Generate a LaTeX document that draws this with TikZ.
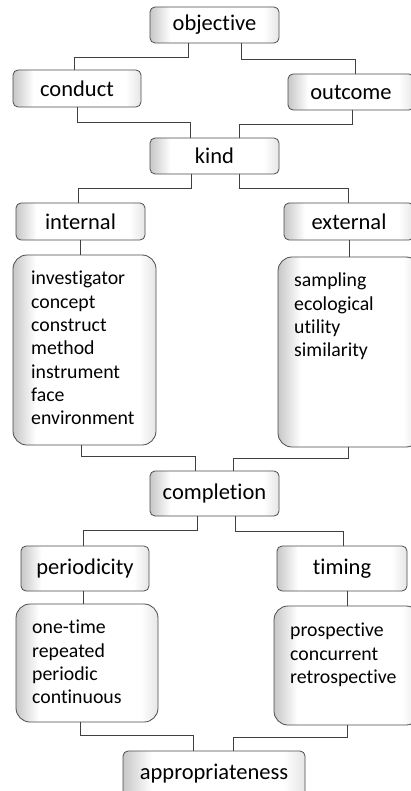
\documentclass[tikz,border=0pt]{standalone}
\usepackage{fontspec}
\setmainfont[Ligatures=NoCommon]{Carlito}
\pgfdeclarehorizontalshading{bevel}{100bp}{color(0bp)=(black!22); color(25bp)=(black!22); color(33bp)=(white); color(69bp)=(white); color(75bp)=(black!10); color(100bp)=(black!10)}
\begin{document}
\begin{tikzpicture}[x=1pt,y=-1pt,
  basebox/.style={draw=black!70, line width=0.8pt, shading=bevel, inner sep=0pt},
  lbl/.style={basebox, rounded corners=5pt, font=\fontsize{22.5}{26}\selectfont},
  lst/.style={basebox, rounded corners=14pt},
  lsttext/.style={anchor=north west, inner sep=0pt, align=left, font=\fontsize{19.8}{23.3}\selectfont},
  conn/.style={draw=black!75, line width=0.8pt}]
\clip (0,0) rectangle (411,791);
\fill[white] (0,0) rectangle (411,791);
% label boxes
\node[lbl, minimum width=129pt, minimum height=36pt] (objective) at (214.5,25) {objective};
\node[lbl, minimum width=128pt, minimum height=37pt] (conduct) at (77,88.5) {conduct};
\node[lbl, minimum width=126pt, minimum height=36pt] (outcome) at (351,92) {outcome};
\node[lbl, minimum width=129pt, minimum height=36pt] (kind) at (214.5,156) {kind};
\node[lbl, minimum width=129pt, minimum height=37pt] (internal) at (80.5,221.5) {internal};
\node[lbl, minimum width=130pt, minimum height=37pt] (external) at (349,221.5) {external};
\node[lst, minimum width=143pt, minimum height=190pt] (intlist) at (84.5,350) {};
\node[lst, minimum width=142pt, minimum height=190pt] (extlist) at (349,352) {};
\node[lbl, minimum width=129pt, minimum height=45pt] (completion) at (214.5,493.5) {completion};
\node[lbl, minimum width=128pt, minimum height=45pt] (periodicity) at (85,568.5) {periodicity};
\node[lbl, minimum width=130pt, minimum height=45pt] (timing) at (342,568.5) {timing};
\node[lst, minimum width=142pt, minimum height=118pt] (perlist) at (87,663) {};
\node[lst, minimum width=146pt, minimum height=119pt] (timlist) at (347,665.5) {};
\node[lbl, minimum width=182pt, minimum height=45pt] (appropriateness) at (214,773.5) {appropriateness};
% list texts
\node[lsttext] (inttext) at (31,271) {investigator\\concept\\construct\\method\\instrument\\face\\environment};
\node[lsttext] (exttext) at (294,273) {sampling\\ecological\\utility\\similarity};
\node[lsttext] (pertext) at (32,620) {one-time\\repeated\\periodic\\continuous};
\node[lsttext] (timtext) at (290,623) {prospective\\concurrent\\retrospective};
% connectors
\draw[conn] (objective.south -| 188,0) -- (188,57) -| (conduct.north -| 74,0);
\draw[conn] (objective.south -| 241,0) -- (241,59) -| (outcome.north -| 355,0);
\draw[conn] (conduct.south -| 77,0) -- (77,122) -| (kind.north -| 190,0);
\draw[conn] (outcome.south -| 352,0) -- (352,124) -| (kind.north -| 239,0);
\draw[conn] (kind.south -| 191,0) -- (191,188) -| (internal.north -| 78,0);
\draw[conn] (kind.south -| 239,0) -- (239,188) -| (external.north -| 348,0);
\draw[conn] (internal.south -| 80,0) -- (intlist.north -| 80,0);
\draw[conn] (external.south -| 349,0) -- (extlist.north -| 349,0);
\draw[conn] (intlist.south -| 81,0) -- (81,456) -| (completion.north -| 195,0);
\draw[conn] (extlist.south -| 348,0) -- (348,458) -| (completion.north -| 233,0);
\draw[conn] (completion.south -| 197,0) -- (197,530) -| (periodicity.north -| 83,0);
\draw[conn] (completion.south -| 235,0) -- (235,531) -| (timing.north -| 343,0);
\draw[conn] (periodicity.south -| 83,0) -- (perlist.north -| 83,0);
\draw[conn] (timing.south -| 347,0) -- (timlist.north -| 347,0);
\draw[conn] (perlist.south -| 80,0) -- (80,735) -| (appropriateness.north -| 193,0);
\draw[conn] (timlist.south -| 347,0) -- (347,737) -| (appropriateness.north -| 233,0);
\end{tikzpicture}
\end{document}
